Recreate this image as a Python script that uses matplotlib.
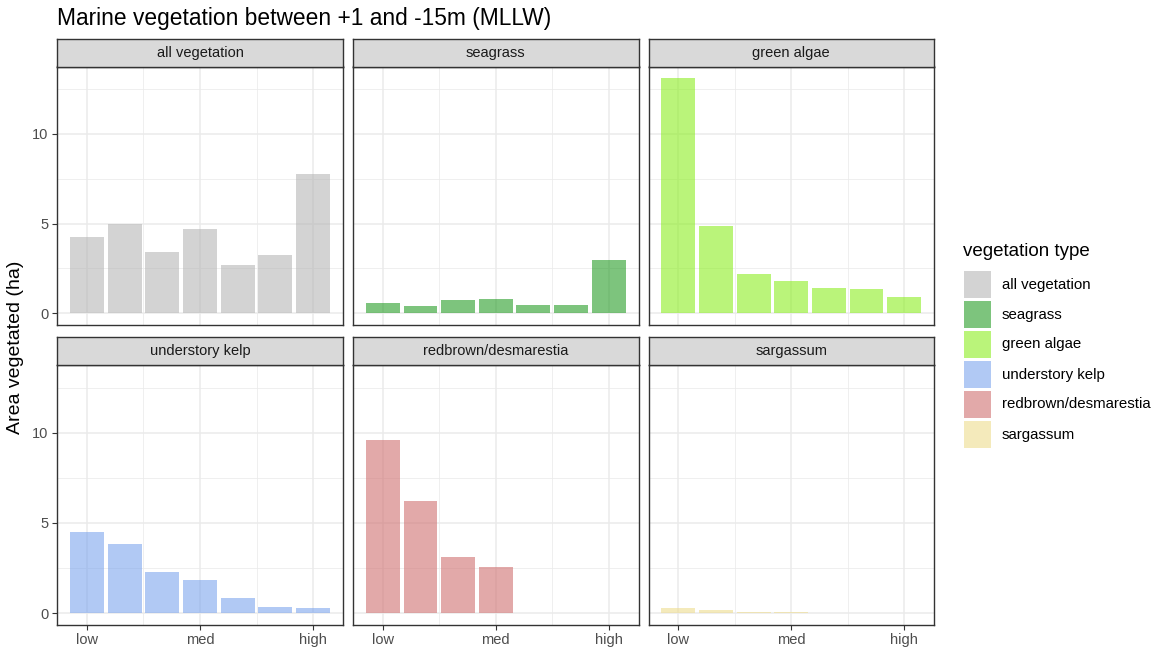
import matplotlib
matplotlib.use("Agg")
import matplotlib.pyplot as plt
from matplotlib.patches import Rectangle
import numpy as np

plt.rcParams['font.family'] = ['Liberation Sans', 'DejaVu Sans']

categories = ["all vegetation", "seagrass", "green algae",
              "understory kelp", "redbrown/desmarestia", "sargassum"]
x_levels = [1, 2, 3, 4, 5, 6, 7]
tick_pos = [1, 4, 7]
tick_labels = ["low", "med", "high"]

all_vegetation = [4.24, 5.00, 3.40, 4.70, 2.68, 3.23, 7.77]
seagrass = [0.56, 0.43, 0.74, 0.80, 0.48, 0.48, 2.97]
green_algae = [13.1, 4.87, 2.19, 1.78, 1.41, 1.34, 0.89]
understory_kelp = [4.50, 3.83, 2.29, 1.86, 0.82, 0.32, 0.28]
redbrown = [9.59, 6.19, 3.14, 2.57, 0.03, 0.0, 0.0]
sargassum = [0.26, 0.17, 0.09, 0.04, 0.01, 0.0, 0.0]

series = [all_vegetation, seagrass, green_algae, understory_kelp, redbrown, sargassum]
colors = ["#b6b6b6", "#269d26", "#8cee21", "#7da5ed", "#d07171", "#eedc8f"]
ALPHA = 0.6

W, H = 1156, 649
fig = plt.figure(figsize=(W / 100, H / 100), dpi=100)

def px_axes(left, top, right, bottom):
    return fig.add_axes([left / W, 1 - bottom / H, (right - left) / W, (bottom - top) / H])

col_lr = [(57, 343), (353, 638.5), (648.5, 934)]
row_tb = [(66.5, 325), (365, 625)]
strip_h = 28

ymax_all = max(max(s) for s in series)
ylo, yhi = -0.05 * ymax_all, ymax_all * 1.05
xlo, xhi = 0.55 - 0.345, 7.45 + 0.345

for i, (cat, vals, col) in enumerate(zip(categories, series, colors)):
    r, c = divmod(i, 3)
    l, rr = col_lr[c]
    t, b = row_tb[r]
    ax = px_axes(l, t, rr, b)
    ax.set_xlim(xlo, xhi)
    ax.set_ylim(ylo, yhi)
    ax.set_xticks(tick_pos)
    ax.set_xticks([2.5, 5.5], minor=True)
    ax.set_yticks([0, 5, 10])
    ax.set_yticks([2.5, 7.5, 12.5], minor=True)
    ax.grid(True, which='major', color='#ebebeb', lw=1.1, zorder=0)
    ax.grid(True, which='minor', color='#ebebeb', lw=0.55, zorder=0)
    ax.set_axisbelow(True)
    ax.tick_params(which='minor', length=0)
    ax.tick_params(which='major', length=3.5, width=0.8, color='#333333',
                   labelsize=10.5, labelcolor='#4d4d4d', pad=2.5)
    if r == 1:
        ax.set_xticklabels(tick_labels)
    else:
        ax.tick_params(axis='x', which='major', length=0, labelbottom=False)
    if c == 0:
        ax.set_yticklabels(["0", "5", "10"])
    else:
        ax.tick_params(axis='y', which='major', length=0, labelleft=False)
    for sp in ax.spines.values():
        sp.set_color('#333333')
        sp.set_linewidth(1.0)
    ax.bar(x_levels, vals, width=0.9, color=col, alpha=ALPHA,
           linewidth=0, zorder=2)
    # strip
    sax = px_axes(l, t - strip_h, rr, t)
    sax.set_xticks([]); sax.set_yticks([])
    sax.set_facecolor('#d9d9d9')
    for sp in sax.spines.values():
        sp.set_color('#333333')
        sp.set_linewidth(1.0)
    sax.text(0.5, 0.5, cat, ha='center', va='center', fontsize=10.5,
             color='#1a1a1a', transform=sax.transAxes)

fig.text(57 / W, 1 - 18 / H, "Marine vegetation between +1 and -15m (MLLW)",
         ha='left', va='center', fontsize=16.4, color='black')
fig.text(16 / W, 1 - 347 / H, "Area vegetated (ha)", rotation=90,
         ha='center', va='center', fontsize=14, color='black')

# legend
fig.text(963 / W, 1 - 252 / H, "vegetation type", ha='left', va='center',
         fontsize=13.5, color='black')
for k, (cat, col) in enumerate(zip(categories, colors)):
    top = 271 + 30 * k
    lax = px_axes(964, top, 991, top + 27)
    lax.set_xlim(0, 1); lax.set_ylim(0, 1)
    lax.axis('off')
    lax.add_patch(Rectangle((0, 0), 1, 1, facecolor=col, alpha=ALPHA,
                            edgecolor='none'))
    fig.text(1002 / W, 1 - (top + 13.5) / H, cat, ha='left', va='center',
             fontsize=10.8, color='black')

fig.savefig("out.png", dpi=100)
